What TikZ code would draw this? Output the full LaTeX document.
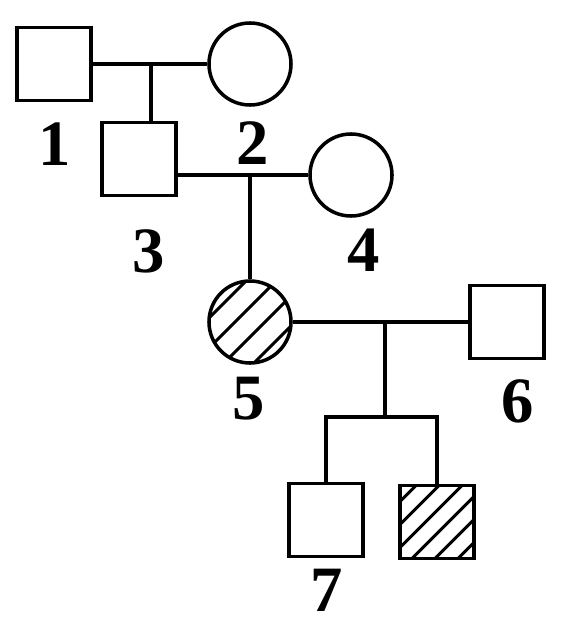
\documentclass[tikz,border=0pt]{standalone}
\usepackage{fontspec}
\setmainfont{Liberation Serif}
\begin{document}
\begin{tikzpicture}[x=0.025cm,y=-0.025cm,line width=2.5pt,
  male/.style={draw,rectangle,minimum width=1.85cm,minimum height=1.82cm,inner sep=0pt},
  female/.style={draw,circle,minimum size=2.05cm,inner sep=0pt},
  hatched/.style={path picture={\foreach \d in {#1}
    \draw[line width=2.2pt] ([xshift=\d*0.025cm]path picture bounding box.center) ++(-3cm,-3cm) -- ++(6cm,6cm);}},
  num/.style={font=\fontsize{46}{46}\selectfont\bfseries,inner sep=0pt}]
\useasboundingbox (0,0) rectangle (566,631);

\node[male] (p1) at (54,64) {};
\node[female] (p2) at (250,64) {};
\node[male] (p3) at (139,159) {};
\node[female] (p4) at (351,175) {};
\node[female,hatched={-45,-15,15,45}] (p5) at (250,322) {};
\node[male] (p6) at (507,322) {};
\node[male] (p7) at (326,520) {};
\node[male,hatched={-57.5,-34.5,-11.5,11.5,34.5,57.5}] (p8) at (437,522) {};

\node[num] (n1) at (55,144) {1};
\node[num] (n2) at (253,143) {2};
\node[num] (n3) at (149,251) {3};
\node[num] (n4) at (364,250) {4};
\node[num] (n5) at (249,399) {5};
\node[num] (n6) at (518,401) {6};
\node[num] (n7) at (327,590) {7};

\coordinate (m12) at (151,64);
\coordinate (m34) at (p5.north |- p4.west);
\coordinate (m56) at (385,322);
\coordinate (s56) at (385,417);

\draw (p1.east) -- (p2.west);
\draw (m12) -- (m12 |- p3.north);
\draw (p3.east |- p4.west) -- (p4.west);
\draw (m34) -- (p5.north);
\draw (p5.east) -- (p6.west);
\draw (m56) -- (s56);
\draw (p7.north) |- (s56) -| (p8.north);
\end{tikzpicture}
\end{document}
